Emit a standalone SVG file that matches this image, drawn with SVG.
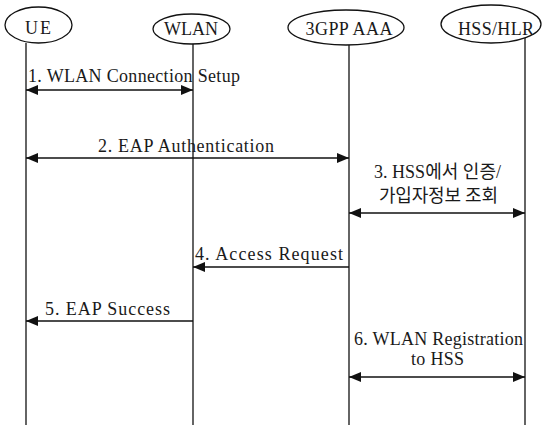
<svg xmlns="http://www.w3.org/2000/svg" width="542" height="428" viewBox="0 0 542 428">
  <defs>
    <marker id="arrow" viewBox="0 0 12 10" refX="12" refY="5" markerWidth="12" markerHeight="10" markerUnits="userSpaceOnUse" orient="auto-start-reverse">
      <path d="M0,0 L12,5 L0,10 Z" fill="#111"/>
    </marker>
  </defs>
  <style>
    .node ellipse { fill: #fff; stroke: #111; stroke-width: 1.3; }
    .life { stroke: #111; stroke-width: 1.3; }
    .msg { stroke: #111; stroke-width: 1.5; fill: none; }
    text { font-family: "Liberation Serif", "Noto Sans CJK KR", serif; font-size: 18px; fill: #1a1a1a; }
    .c { text-anchor: middle; }
  </style>
  <rect width="542" height="428" fill="#fff"/>

  <!-- lifelines -->
  <g id="lifelines">
    <line class="life" x1="26" y1="43" x2="26" y2="425"/>
    <line class="life" x1="193" y1="44" x2="193" y2="425"/>
    <line class="life" x1="349" y1="45" x2="349" y2="425"/>
    <line class="life" x1="525" y1="37" x2="525" y2="425"/>
  </g>

  <g id="UE" class="node">
    <ellipse cx="38.5" cy="25" rx="33.5" ry="18"/>
    <text class="c" x="38" y="34" textLength="26">UE</text>
  </g>
  <g id="WLAN" class="node">
    <ellipse cx="191.5" cy="29" rx="38.5" ry="15"/>
    <text class="c" x="191" y="35" textLength="54">WLAN</text>
  </g>
  <g id="AAA" class="node">
    <ellipse cx="346" cy="27.5" rx="58" ry="17.5"/>
    <text class="c" x="349" y="35" textLength="87">3GPP AAA</text>
  </g>
  <g id="HSS" class="node">
    <ellipse cx="491" cy="24" rx="50" ry="19"/>
    <text class="c" x="496" y="35" textLength="76">HSS/HLR</text>
  </g>

  <!-- messages -->
  <g id="connectors">
    <line class="msg" x1="26" y1="90" x2="193" y2="90" marker-start="url(#arrow)" marker-end="url(#arrow)"/>
    <line class="msg" x1="26" y1="158" x2="349" y2="158" marker-start="url(#arrow)" marker-end="url(#arrow)"/>
    <line class="msg" x1="349" y1="213" x2="525" y2="213" marker-start="url(#arrow)" marker-end="url(#arrow)"/>
    <line class="msg" x1="349" y1="267" x2="193" y2="267" marker-end="url(#arrow)"/>
    <line class="msg" x1="193" y1="321" x2="26" y2="321" marker-end="url(#arrow)"/>
    <line class="msg" x1="349" y1="377" x2="525" y2="377" marker-start="url(#arrow)" marker-end="url(#arrow)"/>
  </g>

  <g id="labels">
    <text x="28" y="82" textLength="212">1. WLAN Connection Setup</text>
    <text x="98" y="152" textLength="176">2. EAP Authentication</text>
    <text x="374" y="178" textLength="127">3. HSS에서 인증/</text>
    <text x="379" y="202" textLength="119">가입자정보 조회</text>
    <text x="195" y="260" textLength="148">4. Access Request</text>
    <text x="45" y="315" textLength="125">5. EAP Success</text>
    <text x="354" y="345" textLength="169">6. WLAN Registration</text>
    <text x="411" y="365" textLength="53">to HSS</text>
  </g>
</svg>
